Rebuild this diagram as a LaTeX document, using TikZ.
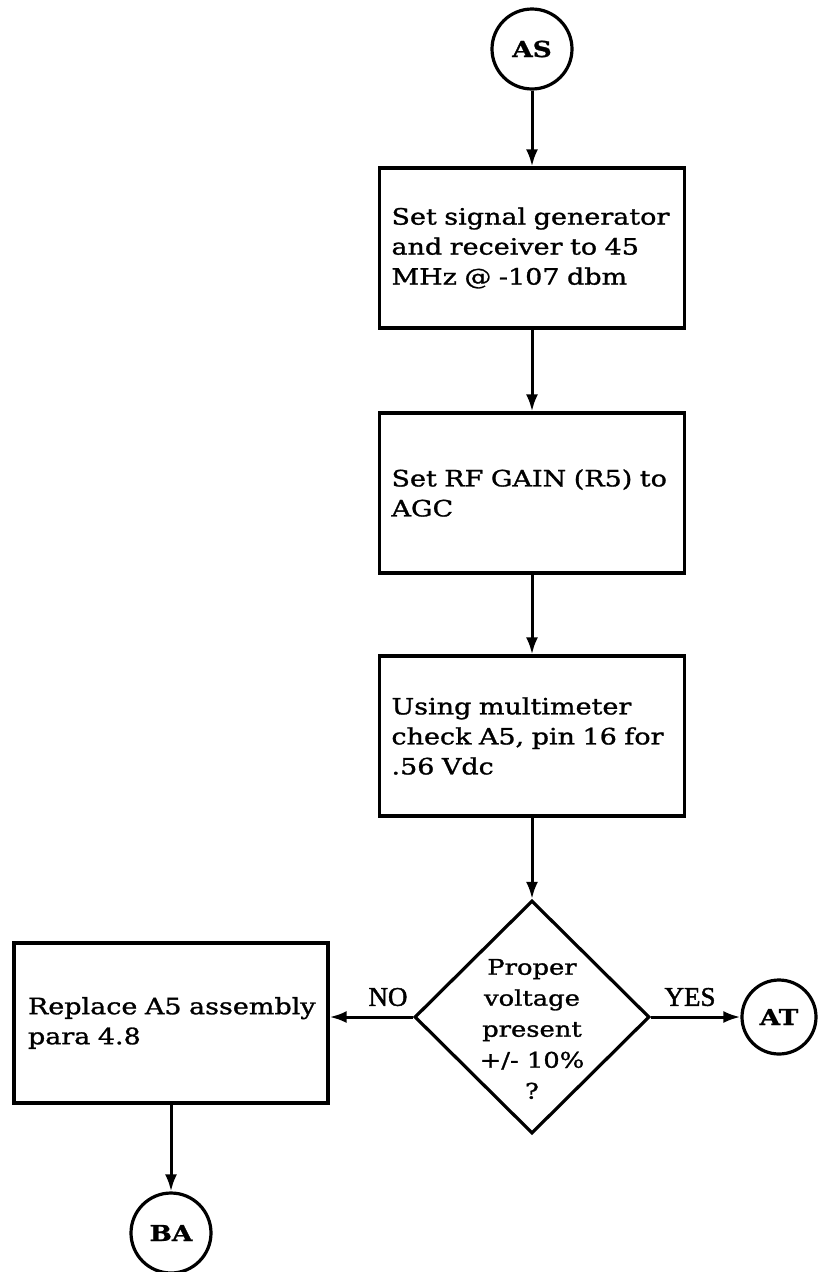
\documentclass[tikz,border=0pt]{standalone}
\usepackage{fontspec}
\setmainfont{DejaVu Serif}[FakeStretch=1.2,FakeBold=1.2]
\newfontfamily\nyfont{Liberation Serif}[FakeBold=1.5]
\usetikzlibrary{shapes.geometric,arrows.meta}
\begin{document}
\begin{tikzpicture}[x=1pt,y=-1pt,
  line width=3.2pt,
  conn/.style={-{Latex[length=17pt,width=12pt]}, line width=3pt},
  stepbox/.style={draw, rectangle, text width=281pt, inner xsep=12pt, inner ysep=0pt,
    minimum height=160pt, align=left, font=\fontsize{22.5}{30}\selectfont},
  sidebox/.style={stepbox, text width=286pt, inner xsep=14pt},
  term/.style={draw, circle, inner sep=0pt, minimum size=80pt,
    font=\bfseries\fontsize{22}{28}\selectfont},
  decision/.style={draw, diamond, inner sep=0pt, minimum width=235pt, minimum height=233pt},
  dtext/.style={align=center, inner sep=0pt, font=\fontsize{21.5}{31}\selectfont},
  lbl/.style={inner sep=0pt, font=\nyfont\fontsize{27}{30}\selectfont}]
\useasboundingbox (0,0) rectangle (817,1272);
\node[term] (as) at (532,49) {AS};
\node[stepbox] (b1) at (532,248) {Set signal generator\\and receiver to 45\\MHz @ -107 dbm};
\node[stepbox] (b2) at (532,493) {Set RF GAIN (R5) to\\AGC};
\node[stepbox] (b3) at (532,736) {Using multimeter\\check A5, pin 16 for\\.56 Vdc};
\node[decision] (d) at (532,1017) {};
\node[dtext] (dt) at (532,1029) {Proper\\voltage\\present\\+/- 10\%\\?};
\node[sidebox] (lb) at (171,1023) {\mbox{Replace A5 assembly}\\para 4.8};
\node[term, minimum size=74pt] (at) at (779,1017) {AT};
\node[term] (ba) at (171,1233) {BA};
\node[lbl] (no) at (388,997) {NO};
\node[lbl] (yes) at (690,997) {YES};
\draw[conn] (as) -- (b1);
\draw[conn] (b1) -- (b2);
\draw[conn] (b2) -- (b3);
\draw[conn] (b3) -- (d);
\draw[conn] (d.west) -- (d.west -| lb.east);
\draw[conn] (d.east) -- (at.west);
\draw[conn] (lb) -- (ba);
\end{tikzpicture}
\end{document}
